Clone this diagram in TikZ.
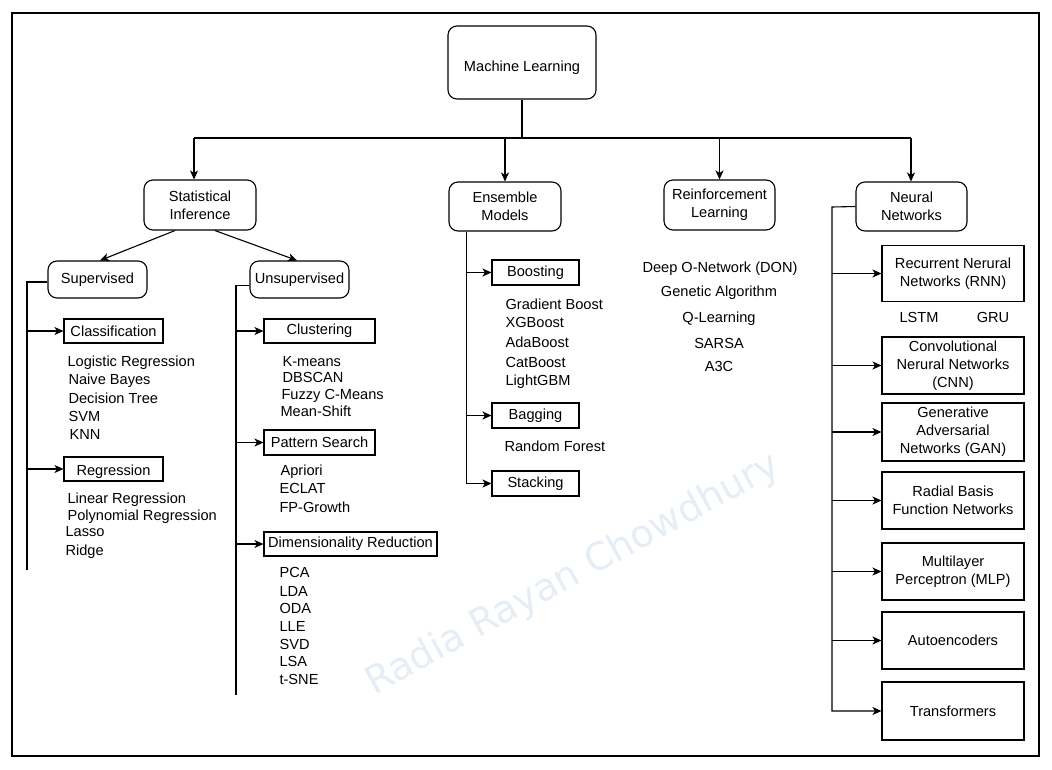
\documentclass[tikz,border=0pt]{standalone}
\usepackage{fontspec}
\setmainfont{Liberation Sans}
\newfontfamily\wmfont{DejaVu Sans}
\usetikzlibrary{arrows.meta}
\definecolor{wmblue}{RGB}{230,237,245}

\begin{document}
\begin{tikzpicture}[x=1pt,y=-1pt,->,>={Stealth[length=9pt,width=8pt,inset=2.5pt]},line width=1.1pt,
  font=\fontsize{14.6}{18}\selectfont,
  rbox/.style={draw,rounded corners=9pt,align=center,inner sep=0pt},
  sbox/.style={draw,align=center,inner sep=0pt},
  item/.style={anchor=base west,inner sep=0pt},
  citem/.style={anchor=base,inner sep=0pt}]
  \useasboundingbox (0,0) rectangle (1052,769);
  \draw[-] (12,13) rectangle (1039,756);
  \node[rotate=28.7,text=wmblue,font=\wmfont\fontsize{38}{42}\selectfont] (wm) at (573,575) {Radia Rayan Chowdhury};

  % top level
  \node[rbox,minimum width=148pt,minimum height=73pt] (ml) at (522,62.5) {\raisebox{-8.5pt}[0pt][0pt]{Machine Learning}};
  \node[rbox,minimum width=112pt,minimum height=50pt] (si) at (200,205) {Statistical\\Inference};
  \node[rbox,minimum width=112pt,minimum height=49pt] (em) at (505,206.5) {Ensemble\\Models};
  \node[rbox,minimum width=111pt,minimum height=50pt] (rl) at (719.5,205) {Reinforcement\\Learning};
  \node[rbox,minimum width=111pt,minimum height=49pt] (nn) at (911.5,206.5) {Neural\\Networks};

  % statistical inference
  \node[rbox,minimum width=99pt,minimum height=37pt] (sup) at (97.5,279.5) {Supervised};
  \node[rbox,minimum width=99pt,minimum height=37pt] (uns) at (299.5,279.5) {Unsupervised};
  \node[sbox,minimum width=99pt,minimum height=24pt] (cls) at (113.5,331) {Classification};
  \node[sbox,minimum width=99pt,minimum height=24pt] (reg) at (113.5,469) {\raisebox{-6pt}[0pt][0pt]{Regression}};
  \node[sbox,minimum width=111pt,minimum height=24pt] (clu) at (319.5,331) {Clustering};
  \node[sbox,minimum width=111pt,minimum height=25pt] (pat) at (319.5,442.5) {Pattern Search};
  \node[sbox,minimum width=173pt,minimum height=24pt] (dim) at (350.5,544) {Dimensionality Reduction};

  \node[item] (lr) at (67,366) {Logistic Regression};
  \node[item] (nb) at (68,384) {Naive Bayes};
  \node[item] (dt) at (68,403) {Decision Tree};
  \node[item] (svm) at (68,421) {SVM};
  \node[item] (knn) at (69,439) {KNN};
  \node[item] (lin) at (67,503) {Linear Regression};
  \node[item] (poly) at (67,520) {Polynomial Regression};
  \node[item] (lasso) at (65,536) {Lasso};
  \node[item] (ridge) at (65,555) {Ridge};

  \node[item] (km) at (282,366) {K-means};
  \node[item] (dbs) at (282,382) {DBSCAN};
  \node[item] (fcm) at (281,399) {Fuzzy C-Means};
  \node[item] (ms) at (280,416) {Mean-Shift};
  \node[item] (apr) at (280,475) {Apriori};
  \node[item] (ecl) at (279,493) {ECLAT};
  \node[item] (fpg) at (279,512) {FP-Growth};
  \node[item] (pca) at (279,577) {PCA};
  \node[item] (lda) at (279,596) {LDA};
  \node[item] (oda) at (279,613) {ODA};
  \node[item] (lle) at (279,631) {LLE};
  \node[item] (svd) at (279,649) {SVD};
  \node[item] (lsa) at (279,666) {LSA};
  \node[item] (tsne) at (279,684) {t-SNE};

  % ensemble models
  \node[sbox,minimum width=87pt,minimum height=25pt] (boo) at (535.5,272.5) {Boosting};
  \node[sbox,minimum width=87pt,minimum height=25pt] (bag) at (535.5,415.5) {Bagging};
  \node[sbox,minimum width=87pt,minimum height=25pt] (sta) at (535.5,483.5) {Stacking};
  \node[item] (gb) at (505,309) {Gradient Boost};
  \node[item] (xgb) at (505,327) {XGBoost};
  \node[item] (ada) at (505,347) {AdaBoost};
  \node[item] (cat) at (505,367) {CatBoost};
  \node[item] (lgbm) at (505,385) {LightGBM};
  \node[item] (rf) at (504,451) {Random Forest};

  % reinforcement learning
  \node[citem] (dqn) at (720,272) {Deep O-Network (DON)};
  \node[citem] (ga) at (719,296) {Genetic Algorithm};
  \node[citem] (ql) at (719,322) {Q-Learning};
  \node[citem] (sarsa) at (719,348) {SARSA};
  \node[citem] (a3c) at (719,371) {A3C};

  % neural networks
  \node[sbox,minimum width=142pt,minimum height=56pt] (rnn) at (953,273.5) {Recurrent Nerural\\Networks (RNN)};
  \node[citem] (lstm) at (919,322) {LSTM};
  \node[citem] (gru) at (993,322) {GRU};
  \node[sbox,minimum width=142pt,minimum height=57pt] (cnn) at (953,365.5) {Convolutional\\Nerural Networks\\(CNN)};
  \node[sbox,minimum width=142pt,minimum height=58pt] (gan) at (953,432) {Generative\\Adversarial\\Networks (GAN)};
  \node[sbox,minimum width=142pt,minimum height=57pt] (rbf) at (953,500.5) {Radial Basis\\Function Networks};
  \node[sbox,minimum width=142pt,minimum height=57pt] (mlp) at (953,571.5) {Multilayer\\Perceptron (MLP)};
  \node[sbox,minimum width=142pt,minimum height=57pt] (aut) at (953,640.5) {Autoencoders};
  \node[sbox,minimum width=142pt,minimum height=58pt] (tra) at (953,711) {Transformers};

  % connectors
  \coordinate (busl) at (194,138);
  \coordinate (busr) at (911,138);
  \draw[-] (ml.south) -- (ml.south |- busl);
  \draw[-] (busl) -- (busr);
  \draw (busl) -- (busl |- si.north);
  \draw (em.north |- busl) -- (em.north);
  \draw (rl.north |- busl) -- (rl.north);
  \draw (busr) -- (busr |- nn.north);

  \draw ([xshift=-25pt]si.south) -- ([xshift=2.5pt]sup.north);
  \draw ([xshift=15pt]si.south) -- ([xshift=-2.5pt]uns.north);

  \coordinate (supb) at (27,570);
  \draw[-] ([yshift=-2.5pt]sup.west) -| (supb);
  \draw (supb |- cls.west) -- (cls.west);
  \draw (supb |- reg.west) -- (reg.west);

  \coordinate (unsb) at (236,695);
  \draw[-] ([yshift=-6pt]uns.west) -| (unsb);
  \draw (unsb |- clu.west) -- (clu.west);
  \draw (unsb |- pat.west) -- (pat.west);
  \draw (unsb |- dim.west) -- (dim.west);

  \coordinate (emb) at ([xshift=18pt]em.south west);
  \draw (emb) |- (sta.west);
  \draw (emb |- boo.west) -- (boo.west);
  \draw (emb |- bag.west) -- (bag.west);

  \coordinate (nnb) at (832,207);
  \draw (nn.west) -- (nnb) |- (tra.west);
  \draw (nnb |- rnn.west) -- (rnn.west);
  \draw (nnb |- cnn.west) -- (cnn.west);
  \draw (nnb |- gan.west) -- (gan.west);
  \draw (nnb |- rbf.west) -- (rbf.west);
  \draw (nnb |- mlp.west) -- (mlp.west);
  \draw (nnb |- aut.west) -- (aut.west);
\end{tikzpicture}
\end{document}
